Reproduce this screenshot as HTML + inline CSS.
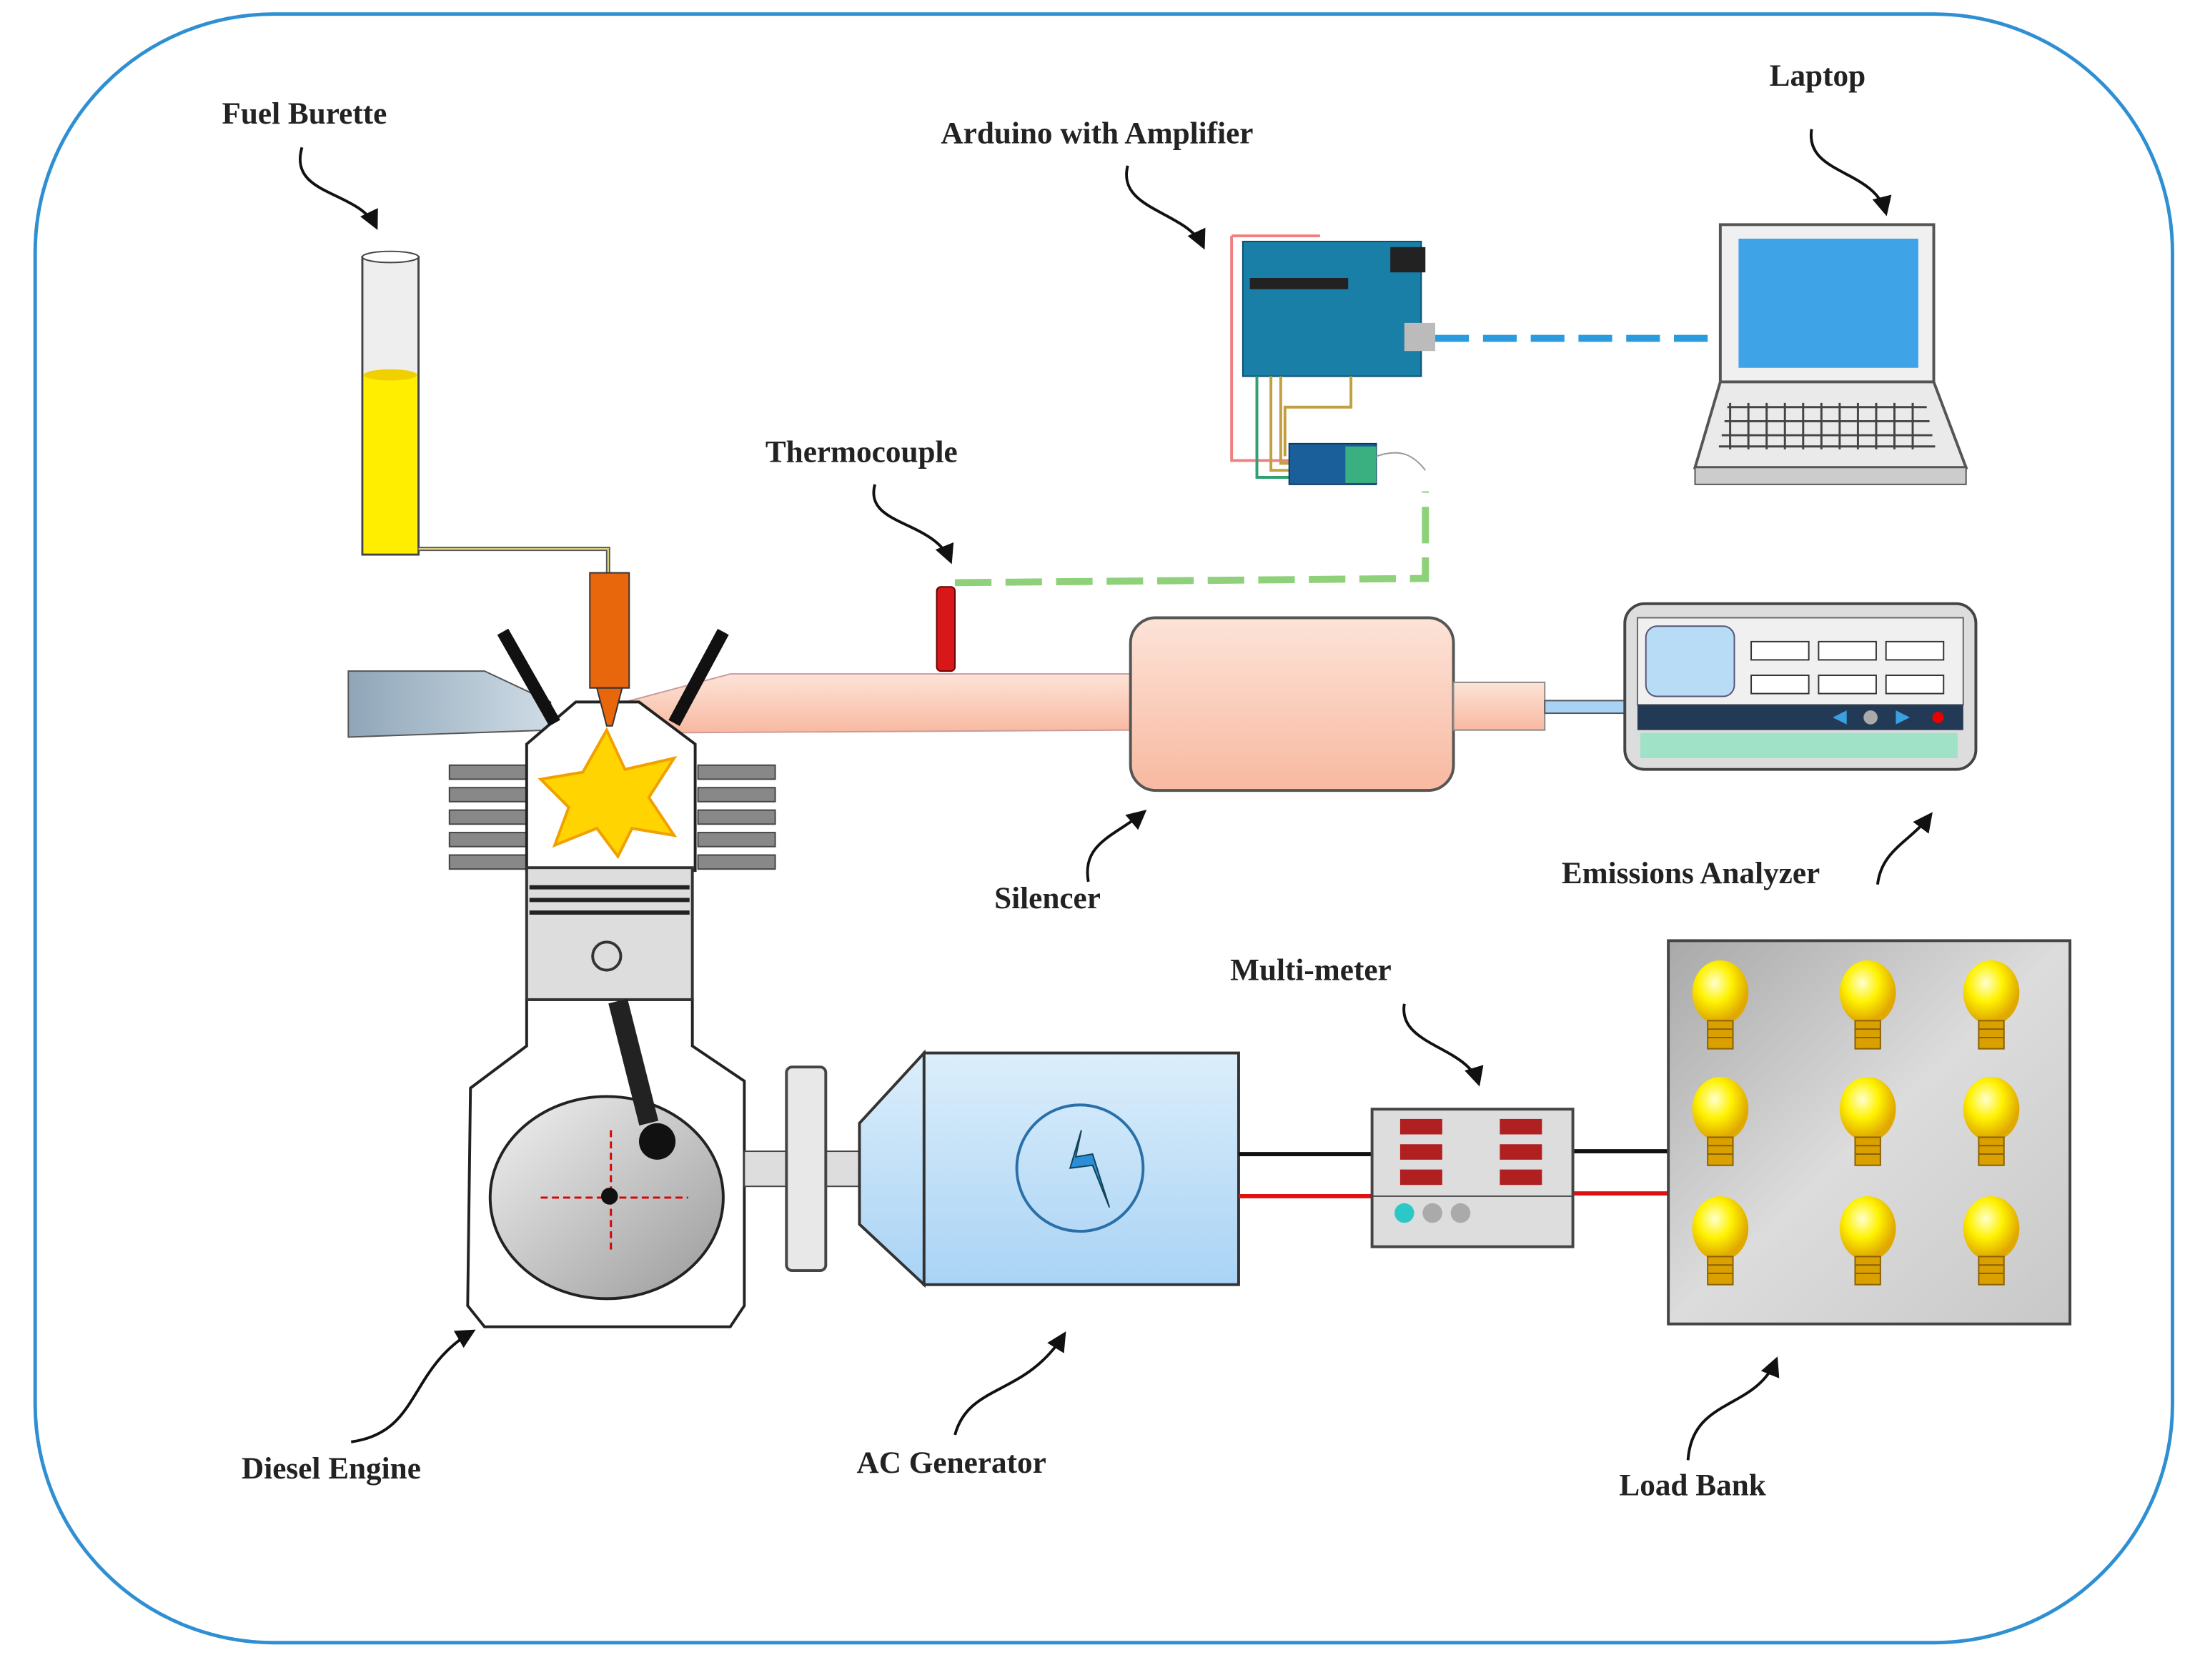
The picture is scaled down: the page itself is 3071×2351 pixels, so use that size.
<!DOCTYPE html>
<html><head><meta charset="utf-8"><style>
html,body{margin:0;padding:0;background:#fff;}
svg{display:block;}
text{font-family:"Liberation Serif",serif;font-size:22px;fill:#222;font-weight:bold;}
</style></head><body>
<svg width="3071" height="2351" viewBox="0 0 1563 1196.6" xmlns="http://www.w3.org/2000/svg">
<defs>
<linearGradient id="pink" x1="0" y1="0" x2="0" y2="1"><stop offset="0" stop-color="#fde3d8"/><stop offset="1" stop-color="#f8b9a0"/></linearGradient>
<linearGradient id="blue" x1="0" y1="0" x2="0" y2="1"><stop offset="0" stop-color="#dceefb"/><stop offset="1" stop-color="#a9d3f5"/></linearGradient>
<linearGradient id="gray" x1="0" y1="0" x2="1" y2="1"><stop offset="0" stop-color="#a9a9a9"/><stop offset="0.5" stop-color="#dcdcdc"/><stop offset="1" stop-color="#c8c8c8"/></linearGradient>
<linearGradient id="fly" x1="0" y1="0" x2="1" y2="1"><stop offset="0" stop-color="#f2f2f2"/><stop offset="1" stop-color="#9a9a9a"/></linearGradient>
<linearGradient id="int" x1="0" y1="0" x2="1" y2="0"><stop offset="0" stop-color="#8fa6b8"/><stop offset="1" stop-color="#cfdce6"/></linearGradient>
<radialGradient id="bulb" cx="0.4" cy="0.35" r="0.6"><stop offset="0" stop-color="#ffffd0"/><stop offset="0.5" stop-color="#fff200"/><stop offset="1" stop-color="#e0a800"/></radialGradient>
<marker id="ah" markerWidth="7" markerHeight="7" refX="6" refY="3.5" orient="auto"><path d="M0,0 L7,3.5 L0,7 z" fill="#111"/></marker>
<g id="b"><ellipse cx="0" cy="-8" rx="20" ry="23" fill="url(#bulb)"/><rect x="-9" y="12" width="18" height="20" fill="#d9a000" stroke="#8a6000"/><path d="M-9,18 H9 M-9,24 H9" stroke="#8a6000"/></g>
</defs>
<rect x="25" y="10" width="1522" height="1160" rx="170" fill="#fff" stroke="#2f8fd3" stroke-width="2.5"/>
<g fill="none" stroke="#111" stroke-width="2" marker-end="url(#ah)">
<path d="M215,105 C205,140 255,135 268,162"/>
<path d="M803,118 C795,150 845,150 857,176"/>
<path d="M1290,92 C1285,125 1335,120 1343,152"/>
<path d="M623,345 C615,375 665,370 677,400"/>
<path d="M775,628 C770,600 795,595 815,578"/>
<path d="M1337,630 C1340,605 1360,600 1375,580"/>
<path d="M1000,715 C995,745 1045,745 1053,772"/>
<path d="M250,1027 C300,1020 290,975 337,948"/>
<path d="M680,1022 C690,985 730,995 758,950"/>
<path d="M1202,1040 C1205,995 1250,1005 1265,968"/>
</g>
<text x="158" y="88">Fuel Burette</text>
<text x="670" y="102">Arduino with Amplifier</text>
<text x="1260" y="61">Laptop</text>
<text x="545" y="329">Thermocouple</text>
<text x="708" y="647">Silencer</text>
<text x="1112" y="629">Emissions Analyzer</text>
<text x="876" y="698">Multi-meter</text>
<text x="172" y="1053">Diesel Engine</text>
<text x="610" y="1049">AC Generator</text>
<text x="1153" y="1065">Load Bank</text>
<rect x="258" y="183" width="40" height="212" fill="#eee" stroke="#444" stroke-width="1.5"/>
<rect x="259" y="267" width="38" height="127" fill="#ffee00"/>
<ellipse cx="278" cy="183" rx="20" ry="4" fill="#fff" stroke="#444"/>
<ellipse cx="278" cy="267" rx="19" ry="4" fill="#f0d000"/>
<path d="M298,391 H433 V408" fill="none" stroke="#555" stroke-width="3"/>
<path d="M298,391 H433 V408" fill="none" stroke="#d8d080" stroke-width="1.2"/>
<polygon points="248,478 345,478 392,500 392,520 248,525" fill="url(#int)" stroke="#555"/>
<polygon points="445,500 520,480 806,480 806,520 460,522" fill="url(#pink)" stroke="#c99"/>
<rect x="805" y="440" width="230" height="123" rx="18" fill="url(#pink)" stroke="#555" stroke-width="2"/>
<rect x="1035" y="486" width="65" height="34" fill="url(#pink)" stroke="#888"/>
<rect x="1100" y="499" width="60" height="9" fill="#a9d3f5" stroke="#555"/>
<rect x="1157" y="430" width="250" height="118" rx="14" fill="#ddd" stroke="#444" stroke-width="2"/>
<rect x="1166" y="440" width="232" height="62" fill="#f0f0f0" stroke="#666"/>
<rect x="1172" y="446" width="63" height="50" rx="8" fill="#b9dcf6" stroke="#557"/>
<g fill="#fff" stroke="#333"><rect x="1247" y="457" width="41" height="13"/><rect x="1295" y="457" width="41" height="13"/><rect x="1343" y="457" width="41" height="13"/><rect x="1247" y="481" width="41" height="13"/><rect x="1295" y="481" width="41" height="13"/><rect x="1343" y="481" width="41" height="13"/></g>
<rect x="1166" y="502" width="232" height="18" fill="#223a55"/>
<rect x="1168" y="522" width="226" height="18" fill="#9fe2c8"/>
<circle cx="1332" cy="511" r="5" fill="#aaa"/><path d="M1305,511 l10,-5 v10z M1360,511 l-10,-5 v10z" fill="#3aa0e0"/><circle cx="1380" cy="511" r="4" fill="#e00"/>
<rect x="667" y="418" width="13" height="60" rx="3" fill="#d81818" stroke="#600"/>
<path d="M680,415 L1015,412 V350" fill="none" stroke="#8fd07a" stroke-width="5" stroke-dasharray="26,10"/>
<path d="M1022,241 H1225" fill="none" stroke="#2b9be0" stroke-width="5" stroke-dasharray="24,10"/>
<rect x="885" y="172" width="127" height="96" fill="#1a7fa6" stroke="#0a4e70"/>
<rect x="890" y="198" width="70" height="8" fill="#222"/>
<rect x="990" y="176" width="25" height="18" fill="#222"/>
<rect x="1000" y="230" width="22" height="20" fill="#bbb"/>
<path d="M877,168 H940 M877,168 V328 H918" fill="none" stroke="#f08080" stroke-width="2"/>
<path d="M905,268 V335 H918 M912,268 V330 H918 M962,268 V290 H915 V325" fill="none" stroke="#c0a040" stroke-width="2"/>
<path d="M895,268 V340 H918" fill="none" stroke="#30a070" stroke-width="2"/>
<rect x="918" y="316" width="62" height="29" fill="#1a5f9a" stroke="#0a3a60"/>
<rect x="958" y="318" width="22" height="26" fill="#3ab080"/>
<path d="M980,325 C995,320 1005,322 1015,335" fill="none" stroke="#999"/>
<rect x="1225" y="160" width="152" height="112" fill="#f0f0f0" stroke="#555" stroke-width="2"/>
<rect x="1238" y="170" width="128" height="92" fill="#3fa3e8"/>
<polygon points="1225,272 1377,272 1400,333 1207,333" fill="#eaeaea" stroke="#555" stroke-width="2"/>
<rect x="1207" y="333" width="193" height="12" fill="#ccc" stroke="#555"/>
<g stroke="#444" stroke-width="1.5" fill="none"><path d="M1230,290 H1372 M1228,300 H1374 M1226,310 H1376 M1224,318 H1378"/><path d="M1232,287 V320 M1245,287 V320 M1258,287 V320 M1271,287 V320 M1284,287 V320 M1297,287 V320 M1310,287 V320 M1323,287 V320 M1336,287 V320 M1349,287 V320 M1362,287 V320"/></g>
<g fill="#888" stroke="#444"><rect x="320" y="545" width="55" height="10"/><rect x="320" y="561" width="55" height="10"/><rect x="320" y="577" width="55" height="10"/><rect x="320" y="593" width="55" height="10"/><rect x="320" y="609" width="55" height="10"/>
<rect x="497" y="545" width="55" height="10"/><rect x="497" y="561" width="55" height="10"/><rect x="497" y="577" width="55" height="10"/><rect x="497" y="593" width="55" height="10"/><rect x="497" y="609" width="55" height="10"/></g>
<polygon points="375,530 410,500 455,500 495,530 495,620 375,620" fill="#fff" stroke="#222" stroke-width="2"/>
<polygon points="432,520 445,548 480,540 462,568 480,595 450,590 440,610 425,590 395,602 405,575 385,555 415,550" fill="#ffd400" stroke="#f0a000" stroke-width="2"/>
<path d="M358,450 L395,515 M515,450 L480,515" stroke="#111" stroke-width="9"/>
<rect x="420" y="408" width="28" height="82" fill="#e8660c" stroke="#333"/>
<polygon points="425,490 443,490 436,517 432,517" fill="#e8660c" stroke="#333"/>
<polygon points="375,712 375,745 335,775 333,930 345,945 520,945 530,930 530,770 493,745 493,712" fill="#fff" stroke="#222" stroke-width="2"/>
<ellipse cx="432" cy="853" rx="83" ry="72" fill="url(#fly)" stroke="#222" stroke-width="2"/>
<rect x="375" y="618" width="118" height="94" fill="#ddd" stroke="#333" stroke-width="2"/>
<path d="M377,632 H491 M377,641 H491 M377,650 H491" stroke="#222" stroke-width="3"/>
<circle cx="432" cy="681" r="10" fill="none" stroke="#333" stroke-width="2"/>
<path d="M440,713 L462,800" stroke="#222" stroke-width="14"/>
<circle cx="468" cy="813" r="13" fill="#111"/>
<path d="M385,853 H490 M435,805 V890" stroke="#d00" stroke-width="1.5" stroke-dasharray="5,3"/>
<circle cx="434" cy="852" r="6" fill="#111"/>
<rect x="530" y="820" width="82" height="25" fill="#ddd" stroke="#444"/>
<rect x="560" y="760" width="28" height="145" rx="4" fill="#e8e8e8" stroke="#444" stroke-width="2"/>
<polygon points="612,800 658,750 658,915 612,872" fill="url(#blue)" stroke="#333" stroke-width="2"/>
<rect x="658" y="750" width="224" height="165" fill="url(#blue)" stroke="#333" stroke-width="2"/>
<circle cx="769" cy="832" r="45" fill="none" stroke="#2a6fa8" stroke-width="2"/>
<polygon points="770,805 762,832 778,830 790,860 778,822 766,824" fill="#2a8fd8" stroke="#145"/>
<path d="M882,822 H977 M1120,820 H1188" stroke="#111" stroke-width="3"/>
<path d="M882,852 H977 M1120,850 H1188" stroke="#e01010" stroke-width="3"/>
<rect x="977" y="790" width="143" height="98" fill="#ddd" stroke="#444" stroke-width="2"/>
<path d="M977,852 H1120" stroke="#444"/>
<g fill="#b02020"><rect x="997" y="797" width="30" height="11"/><rect x="997" y="815" width="30" height="11"/><rect x="997" y="833" width="30" height="11"/><rect x="1068" y="797" width="30" height="11"/><rect x="1068" y="815" width="30" height="11"/><rect x="1068" y="833" width="30" height="11"/></g>
<circle cx="1000" cy="864" r="7" fill="#2cc8c8"/><circle cx="1020" cy="864" r="7" fill="#aaa"/><circle cx="1040" cy="864" r="7" fill="#aaa"/>
<rect x="1188" y="670" width="286" height="273" fill="url(#gray)" stroke="#444" stroke-width="2"/>
<use href="#b" x="1225" y="715"/><use href="#b" x="1330" y="715"/><use href="#b" x="1418" y="715"/>
<use href="#b" x="1225" y="798"/><use href="#b" x="1330" y="798"/><use href="#b" x="1418" y="798"/>
<use href="#b" x="1225" y="883"/><use href="#b" x="1330" y="883"/><use href="#b" x="1418" y="883"/>
</svg>
</body></html>
